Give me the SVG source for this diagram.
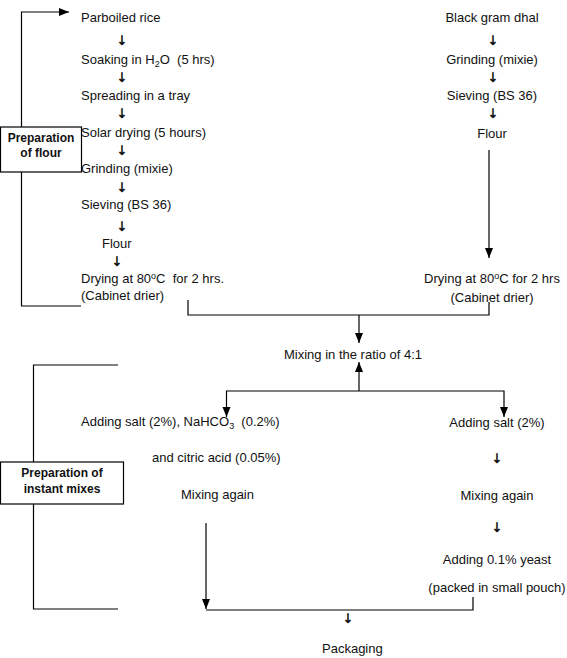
<svg xmlns="http://www.w3.org/2000/svg" width="567" height="658" viewBox="0 0 567 658">
<style>
text{font-family:"Liberation Sans",Arial,sans-serif;font-size:13px;fill:#111;white-space:pre}
.b{font-weight:bold;font-size:12px}
.m{text-anchor:middle}
.a{font-family:"DejaVu Sans",sans-serif;font-size:13px;fill:#000;text-anchor:middle;stroke:#000;stroke-width:0.4}
.c{fill:none;stroke:#000;stroke-width:1.2}
.box{fill:#fff;stroke:#000;stroke-width:1.2}
</style>
<defs>
<marker id="ah" markerUnits="userSpaceOnUse" markerWidth="10" markerHeight="10" viewBox="0 0 10 10" refX="10" refY="5" orient="auto">
<path d="M0,1 L10,5 L0,9 Z" fill="#000"/>
</marker>
</defs>
<rect width="567" height="658" fill="#fff"/>
<g id="connectors">
<path class="c" d="M21.5,127 V12 H69" marker-end="url(#ah)"/>
<path class="c" d="M21.5,172 V306 H81"/>
<path class="c" d="M489,150 V258" marker-end="url(#ah)"/>
<path class="c" d="M188,300 V315 H489 V302"/>
<path class="c" d="M359,315 V343" marker-end="url(#ah)"/>
<path class="c" d="M359,391 V362" marker-end="url(#ah)"/>
<path class="c" d="M359,391 H226.5 V417" marker-end="url(#ah)"/>
<path class="c" d="M359,391 H504 V417" marker-end="url(#ah)"/>
<path class="c" d="M118,365 H33.5 V462"/>
<path class="c" d="M33.5,504 V609 H118"/>
<path class="c" d="M206,523 V609" marker-end="url(#ah)"/>
<path class="c" d="M206,610 H473 V597"/>
</g>
<g id="flour-box">
<rect class="box" x="0.5" y="127" width="81" height="45"/>
<text class="b m" x="41" y="142">Preparation</text>
<text class="b m" x="41" y="157">of flour</text>
</g>
<g id="mix-box">
<rect class="box" x="0.5" y="462" width="123" height="42"/>
<text class="b m" x="62" y="477">Preparation of</text>
<text class="b m" x="62" y="493">instant mixes</text>
</g>
<g id="rice-col">
<text x="81" y="22">Parboiled rice</text>
<text class="a" x="122" y="45">↓</text>
<text x="81" y="64">Soaking in H<tspan font-size="9" dy="3">2</tspan><tspan dy="-3">O  (5 hrs)</tspan></text>
<text class="a" x="122" y="82">↓</text>
<text x="81" y="100">Spreading in a tray</text>
<text class="a" x="122" y="118">↓</text>
<text x="81" y="137">Solar drying (5 hours)</text>
<text class="a" x="122" y="155">↓</text>
<text x="81" y="173">Grinding (mixie)</text>
<text class="a" x="122" y="192">↓</text>
<text x="81" y="209">Sieving (BS 36)</text>
<text class="a" x="122" y="231">↓</text>
<text x="102" y="248">Flour</text>
<text class="a" x="117" y="266">↓</text>
<text x="81" y="283">Drying at 80<tspan font-size="9" dy="-4">o</tspan><tspan dy="4">C  for 2 hrs.</tspan></text>
<text x="81" y="300">(Cabinet drier)</text>
</g>
<g id="dhal-col">
<text class="m" x="492" y="22">Black gram dhal</text>
<text class="a" x="493" y="45">↓</text>
<text class="m" x="492" y="64">Grinding (mixie)</text>
<text class="a" x="493" y="82">↓</text>
<text class="m" x="492" y="100">Sieving (BS 36)</text>
<text class="a" x="493" y="118">↓</text>
<text class="m" x="492" y="138">Flour</text>
<text class="m" x="492" y="283">Drying at 80<tspan font-size="9" dy="-4">o</tspan><tspan dy="4">C for 2 hrs</tspan></text>
<text class="m" x="492" y="302">(Cabinet drier)</text>
</g>
<g id="mixing">
<text class="m" x="353" y="359">Mixing in the ratio of 4:1</text>
</g>
<g id="left-mix">
<text x="81" y="426">Adding salt (2%), NaHCO<tspan font-size="9" dy="3">3</tspan><tspan dy="-3">  (0.2%)</tspan></text>
<text x="152" y="462">and citric acid (0.05%)</text>
<text x="181" y="499">Mixing again</text>
</g>
<g id="right-mix">
<text class="m" x="497" y="427">Adding salt (2%)</text>
<text class="a" x="497" y="463">↓</text>
<text class="m" x="497" y="500">Mixing again</text>
<text class="a" x="497" y="532">↓</text>
<text class="m" x="497" y="564">Adding 0.1% yeast</text>
<text class="m" x="497" y="592">(packed in small pouch)</text>
</g>
<g id="packaging">
<text class="a" x="348" y="623">↓</text>
<text x="322" y="653">Packaging</text>
</g>
</svg>
